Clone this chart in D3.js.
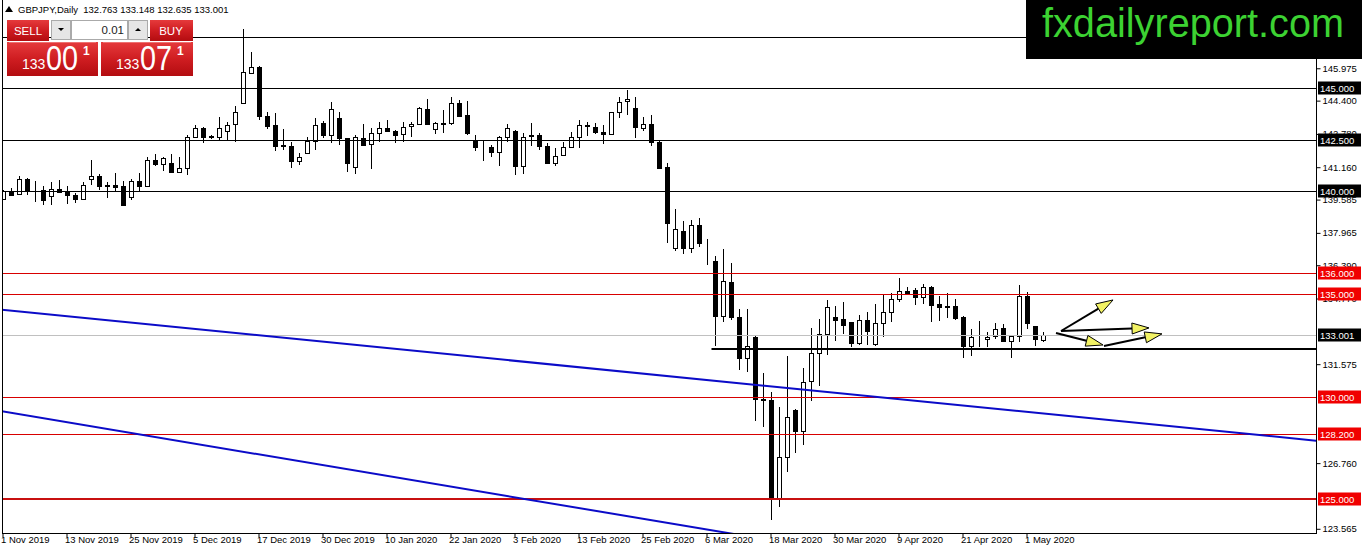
<!DOCTYPE html>
<html><head><meta charset="utf-8">
<script src="https://cdn.jsdelivr.net/npm/d3@7/dist/d3.min.js"></script>
<style>
html,body{margin:0;padding:0;background:#fff;}
svg{display:block;font-family:"Liberation Sans",Arial,sans-serif;}
</style></head>
<body>
<svg id="c" width="1362" height="554"></svg>
<script>
// ---------- DATA ----------
const symbolTitle = "GBPJPY,Daily  132.763 133.148 132.635 133.001";
const opens = [139.62,139.93,139.87,140.60,140.03,140.06,139.78,140.10,140.00,139.82,139.60,140.58,140.74,140.30,140.30,140.25,139.71,140.47,140.23,141.52,
141.30,141.36,140.95,141.12,142.62,143.06,142.70,142.62,142.90,143.27,144.27,145.73,146.02,143.67,143.20,142.25,142.20,141.44,141.84,142.44,
143.30,142.73,143.54,142.57,141.17,142.57,142.30,142.82,143.06,142.90,142.77,143.17,143.25,144.00,143.00,143.28,143.30,144.27,143.70,142.46,
142.15,142.13,141.88,142.62,142.93,141.20,142.73,142.73,142.20,141.36,141.75,142.15,142.62,143.20,143.14,142.87,142.77,143.84,144.38,144.03,
143.06,143.27,142.38,141.17,137.22,138.07,137.22,138.36,137.47,136.61,133.90,135.57,133.86,131.87,132.89,129.87,129.84,125.08,127.08,129.35,
128.34,130.78,132.11,133.04,133.86,133.78,133.61,132.59,133.73,132.56,133.56,134.10,134.75,135.12,135.19,134.83,135.32,134.50,134.40,134.39,
133.86,132.48,132.86,132.80,132.96,133.32,132.72,132.96,134.91,133.42,132.763];
const highs = [140.05,140.14,140.74,140.62,140.47,140.23,140.42,140.55,140.23,139.90,140.42,141.52,140.84,140.42,140.87,140.47,140.58,140.87,141.68,141.80,
141.68,141.80,141.68,142.73,143.22,143.11,142.75,143.62,143.38,144.14,147.91,146.78,146.08,143.83,143.82,143.00,142.41,141.84,142.65,143.57,
143.41,144.35,143.87,142.60,142.73,143.27,143.06,143.38,143.46,142.98,143.38,143.38,144.11,144.48,143.38,143.95,144.60,144.43,144.38,142.73,
142.46,142.25,142.68,143.27,142.98,142.82,143.33,142.82,142.33,142.10,142.41,142.85,143.46,143.35,143.33,143.22,143.87,144.60,144.92,144.56,
143.60,143.70,142.50,141.36,139.14,138.56,138.57,138.69,137.66,136.85,137.18,136.49,134.25,134.25,132.95,131.14,130.24,129.51,131.98,129.40,
131.38,133.33,133.77,134.68,134.43,134.62,133.62,133.97,134.10,134.50,134.99,135.04,135.76,135.35,135.27,135.48,135.40,134.88,135.03,134.75,
133.94,133.29,133.69,133.13,133.58,133.53,132.97,135.43,135.07,133.42,133.148];
const lows = [139.55,139.80,139.85,139.82,139.45,139.34,139.34,139.90,139.37,139.42,139.58,140.30,140.03,139.66,139.98,139.26,139.55,139.98,140.20,141.20,
141.00,140.87,140.90,140.79,142.57,142.33,142.55,142.49,142.49,142.41,144.25,145.70,143.46,143.00,141.93,142.00,141.12,141.28,141.80,142.00,
142.60,142.36,142.25,140.95,140.82,142.20,141.07,142.38,142.85,142.33,142.38,142.62,143.20,143.20,142.78,142.82,143.22,143.60,142.75,141.97,
141.44,141.64,141.20,142.40,140.80,140.84,142.17,142.00,141.30,141.20,141.70,142.10,142.10,142.68,142.78,142.30,142.75,143.54,143.70,142.57,
142.90,142.17,141.05,137.47,137.06,136.93,136.98,137.30,136.41,132.47,133.65,133.73,131.30,131.18,128.83,128.50,123.99,124.64,126.35,127.27,
127.65,129.76,130.49,132.03,132.72,133.05,132.40,132.51,132.51,132.48,132.92,133.65,134.59,135.00,134.47,134.50,133.61,133.70,133.83,133.73,
131.86,131.99,132.40,132.40,132.80,132.67,131.90,132.64,133.29,132.48,132.635];
const closes = [139.98,139.82,140.58,140.03,140.05,139.58,140.10,139.94,139.82,139.60,140.30,140.74,140.23,140.23,140.20,139.34,140.47,140.23,141.52,141.33,
141.63,140.95,141.12,142.62,143.06,142.62,142.62,143.06,143.20,143.87,145.78,146.02,143.66,143.17,142.20,142.20,141.44,141.65,142.44,143.20,
142.73,143.98,142.57,141.36,142.65,142.25,142.82,143.06,142.90,142.75,143.14,143.27,144.03,143.25,143.30,143.30,144.27,143.67,142.82,142.12,
142.13,141.88,142.62,143.06,141.20,142.65,142.68,142.17,141.36,141.72,142.15,142.62,143.22,143.17,142.85,142.77,143.84,144.35,144.46,143.14,
143.27,142.38,141.12,138.45,138.14,137.22,138.36,137.47,137.45,133.94,135.63,133.85,131.87,132.48,129.87,129.84,125.08,127.08,128.99,128.34,
130.73,132.11,133.04,134.38,133.74,133.50,132.59,133.73,133.18,133.56,134.10,134.75,135.16,135.03,134.83,135.32,134.47,134.38,134.38,133.83,
132.48,132.88,132.86,132.88,133.29,132.72,132.96,134.91,133.56,132.80,133.001];

const dateLabels = ["1 Nov 2019","13 Nov 2019","25 Nov 2019","5 Dec 2019","17 Dec 2019","30 Dec 2019","10 Jan 2020","22 Jan 2020","3 Feb 2020","13 Feb 2020","25 Feb 2020","6 Mar 2020","18 Mar 2020","30 Mar 2020","9 Apr 2020","21 Apr 2020","1 May 2020"];
const dateLabelBars = [0,8,16,24,32,40,48,56,64,72,80,88,96,104,112,120,128];
const priceTicks = [145.975,144.400,142.780,141.160,139.585,137.965,136.390,134.770,131.575,126.760,123.565];

const blackLevels = [147.48,145.000,142.500,140.000];
const redLevels = [136.000,135.000,130.000,128.200];
const strongRedLevel = 125.000;
const currentPrice = 133.001;
const supportLevel = 132.33, supportStartBar = 88.5;
const trendLines = [[[-0.5,134.24],[164.1,127.85]],[[-0.5,129.30],[93,123.20]]];
const arrows = [[[132.19,133.19],[138.69,134.70]],[[132.19,133.19],[143.19,133.34]],[[131.56,133.09],[137.44,132.51]],[[137.56,132.46],[144.81,133.05]]];

// ---------- SCALES ----------
const svg = d3.select("#c");
const plotL = 2, plotR = 1316, plotB = 533;
const y = d3.scaleLinear().domain([123.36,149.297]).range([plotB,0]);
const x = d3.scaleLinear().domain([0,130]).range([3.5,1043.5]);
const candles = opens.map((o,i)=>({i,o,h:highs[i],l:lows[i],c:closes[i]}));

const defs = svg.append("defs");
defs.append("clipPath").attr("id","plot").append("rect").attr("x",plotL).attr("y",0).attr("width",plotR-plotL).attr("height",plotB);
const g1 = defs.append("linearGradient").attr("id","redG").attr("x1",0).attr("x2",0).attr("y1",0).attr("y2",1);
g1.append("stop").attr("offset","0%").attr("stop-color","#e53a3c");
g1.append("stop").attr("offset","50%").attr("stop-color","#cf1d21");
g1.append("stop").attr("offset","100%").attr("stop-color","#b30c10");

const plot = svg.append("g").attr("clip-path","url(#plot)");

// candles
const cg = plot.append("g");
cg.selectAll("line.w").data(candles).join("line")
  .attr("x1",d=>x(d.i)).attr("x2",d=>x(d.i))
  .attr("y1",d=>Math.round(y(d.h))).attr("y2",d=>Math.round(y(d.l)))
  .attr("stroke","#000").attr("stroke-width",1);
cg.selectAll("rect.b").data(candles).join("rect")
  .attr("x",d=>x(d.i)-2).attr("width",4)
  .attr("y",d=>Math.round(y(Math.max(d.o,d.c)))+0.5)
  .attr("height",d=>Math.max(0,Math.round(y(Math.min(d.o,d.c)))-Math.round(y(Math.max(d.o,d.c)))))
  .attr("fill",d=>d.c>=d.o?"#fff":"#000").attr("stroke","#000").attr("stroke-width",1);

// level lines
const hl = (p,color,w)=>plot.append("line").attr("x1",plotL).attr("x2",plotR)
  .attr("y1",Math.round(y(p))+(w%2?0.5:0)).attr("y2",Math.round(y(p))+(w%2?0.5:0))
  .attr("stroke",color).attr("stroke-width",w);
hl(currentPrice,"#c0c0c0",1);
blackLevels.forEach(p=>hl(p,"#000",1));
redLevels.forEach(p=>hl(p,"#d80000",1));
hl(strongRedLevel,"#c81010",2);

// trend lines
const lineGen = d3.line().x(d=>x(d[0])).y(d=>y(d[1]));
trendLines.forEach(t=>plot.append("path").attr("d",lineGen(t)).attr("fill","none").attr("stroke","#0b0bc8").attr("stroke-width",2));

// support line
plot.append("line").attr("x1",x(supportStartBar)).attr("x2",plotR)
  .attr("y1",Math.round(y(supportLevel))).attr("y2",Math.round(y(supportLevel)))
  .attr("stroke","#000").attr("stroke-width",2);

// arrows
arrows.forEach(a=>{
  const x0=x(a[0][0]),y0=y(a[0][1]),x1=x(a[1][0]),y1=y(a[1][1]);
  const ang=Math.atan2(y1-y0,x1-x0), L=17, Wd=5.5;
  const bx=x1-L*Math.cos(ang), by=y1-L*Math.sin(ang);
  plot.append("line").attr("x1",x0).attr("y1",y0).attr("x2",bx).attr("y2",by).attr("stroke","#000").attr("stroke-width",2);
  const px=-Math.sin(ang)*Wd, py=Math.cos(ang)*Wd;
  plot.append("path").attr("d",`M${x1},${y1}L${bx+px},${by+py}L${bx-px},${by-py}Z`)
    .attr("fill","#f2f264").attr("stroke","#000").attr("stroke-width",1);
});

// ---------- AXES ----------
svg.append("line").attr("x1",plotL+0.5).attr("x2",plotL+0.5).attr("y1",0).attr("y2",plotB).attr("stroke","#000");
svg.append("line").attr("x1",plotR+0.5).attr("x2",plotR+0.5).attr("y1",0).attr("y2",plotB+1).attr("stroke","#000");
svg.append("line").attr("x1",plotL).attr("x2",plotR+1).attr("y1",plotB+0.5).attr("y2",plotB+0.5).attr("stroke","#000");

const yAxis = d3.axisRight(y).tickValues(priceTicks).tickSize(4).tickPadding(2).tickFormat(d3.format(".3f"));
const ya = svg.append("g").attr("transform",`translate(${plotR+0.5},0)`).call(yAxis);
ya.select(".domain").remove();
ya.selectAll("text").attr("font-size","9.5px").attr("fill","#000").attr("font-family","Liberation Sans, Arial, sans-serif");
ya.selectAll("line").attr("stroke","#000");

const xAxis = d3.axisBottom(x).tickValues(dateLabelBars).tickSize(4).tickFormat((d,k)=>dateLabels[k]);
const xa = svg.append("g").attr("transform",`translate(-1,${plotB+0.5})`).call(xAxis);
xa.select(".domain").remove();
xa.selectAll("text").attr("text-anchor","start").attr("dx","-2").attr("dy","0.3em").attr("font-size","9.5px").attr("fill","#000").attr("font-family","Liberation Sans, Arial, sans-serif");
xa.selectAll("line").attr("stroke","#000");

// level labels
const levelLabel = (p,bg)=>{
  const yy=Math.round(y(p));
  svg.append("rect").attr("x",plotR+2).attr("y",yy-6.5).attr("width",43).attr("height",13).attr("fill",bg);
  svg.append("text").attr("x",plotR+4).attr("y",yy+3.5).attr("fill","#fff").attr("font-size","9.5px").text(d3.format(".3f")(p));
};
blackLevels.slice(1).forEach(p=>levelLabel(p,"#000"));
redLevels.forEach(p=>levelLabel(p,"#f00000"));
levelLabel(strongRedLevel,"#f00000");
levelLabel(currentPrice,"#000");

// ---------- LOGO ----------
svg.append("rect").attr("x",1026).attr("y",0).attr("width",336).attr("height",59).attr("fill","#000");
svg.append("text").attr("x",1042).attr("y",37).attr("fill","#3cd232").attr("font-size","40px")
  .attr("textLength",302).attr("lengthAdjust","spacingAndGlyphs").text("fxdailyreport.com");

// ---------- TITLE ----------
svg.append("path").attr("d","M5,12L9,6L13,12Z").attr("fill","#000");
svg.append("text").attr("x",18).attr("y",12.5).attr("font-size","9.5px").attr("fill","#000")
  .attr("xml:space","preserve").text(symbolTitle);

// ---------- TRADE PANEL ----------
const panel = svg.append("g");
panel.append("rect").attr("x",7).attr("y",20).attr("width",42).attr("height",21).attr("fill","url(#redG)");
panel.append("text").attr("x",28).attr("y",35).attr("text-anchor","middle").attr("fill","#fff").attr("font-size","11.5px").text("SELL");
panel.append("rect").attr("x",51.5).attr("y",20.5).attr("width",19).attr("height",19).attr("fill","#e6e6e6").attr("stroke","#aaa");
panel.append("path").attr("d","M58,28L64,28L61,31Z").attr("fill","#000");
panel.append("rect").attr("x",71.5).attr("y",20.5).attr("width",56).attr("height",19).attr("fill","#fff").attr("stroke","#aaa");
panel.append("text").attr("x",124).attr("y",34).attr("text-anchor","end").attr("fill","#222").attr("font-size","11.5px").text("0.01");
panel.append("rect").attr("x",128.5).attr("y",20.5).attr("width",19).attr("height",19).attr("fill","#e6e6e6").attr("stroke","#aaa");
panel.append("path").attr("d","M135,31L141,31L138,28Z").attr("fill","#000");
panel.append("rect").attr("x",150).attr("y",20).attr("width",43).attr("height",21).attr("fill","url(#redG)");
panel.append("text").attr("x",171).attr("y",35).attr("text-anchor","middle").attr("fill","#fff").attr("font-size","11.5px").text("BUY");
panel.append("rect").attr("x",7).attr("y",42).attr("width",91).attr("height",34).attr("fill","url(#redG)");
panel.append("rect").attr("x",101).attr("y",42).attr("width",92).attr("height",34).attr("fill","url(#redG)");
panel.append("line").attr("x1",9).attr("x2",96).attr("y1",42.5).attr("y2",42.5).attr("stroke","#ee7070");
panel.append("line").attr("x1",103).attr("x2",191).attr("y1",42.5).attr("y2",42.5).attr("stroke","#ee7070");
const bigPrice = (x0,a,b,c)=>{
  panel.append("text").attr("x",x0).attr("y",69).attr("fill","#fff").attr("font-size","14px").text(a);
  panel.append("text").attr("x",x0+24).attr("y",70).attr("fill","#fff").attr("font-size","35px")
    .attr("textLength",32).attr("lengthAdjust","spacingAndGlyphs").text(b);
  panel.append("text").attr("x",x0+61).attr("y",55).attr("fill","#fff").attr("font-size","12px").attr("font-weight","bold").text(c);
};
bigPrice(22,"133","00","1");
bigPrice(116,"133","07","1");
</script>
</body></html>
